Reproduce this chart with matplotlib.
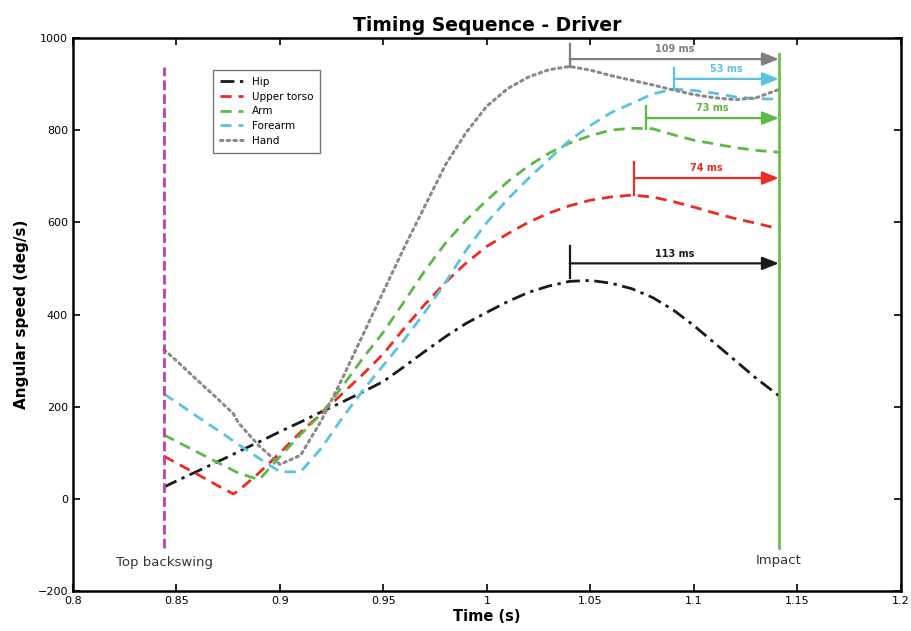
import matplotlib
matplotlib.use("Agg")
import matplotlib.pyplot as plt

# time axis (s) and angular speeds (deg/s)
t = [0.844, 0.85, 0.86, 0.87, 0.8775, 0.88, 0.89, 0.9, 0.91, 0.92, 0.93, 0.94, 0.95,
     0.96, 0.97, 0.98, 0.99, 1.0, 1.01, 1.02, 1.03, 1.04, 1.05, 1.06, 1.07, 1.08,
     1.09, 1.10, 1.11, 1.12, 1.13, 1.141]
hip = [26, 39, 60, 81, 97, 103, 124, 146, 167, 189, 210, 232, 255,
       287, 320, 352, 381, 405, 428, 448, 462, 472, 474, 468, 456, 437,
       410, 376, 338, 300, 262, 224]
upper_torso = [93, 78, 54, 29, 11, 18, 57, 100, 145, 185, 228, 270, 315,
               370, 422, 470, 512, 548, 575, 600, 620, 636, 648, 655, 659, 655,
               645, 633, 620, 608, 598, 586]
arm = [139, 125, 102, 79, 62, 56, 42, 92, 140, 185, 243, 305, 362,
       428, 495, 555, 605, 648, 688, 722, 750, 772, 788, 800, 804, 803,
       790, 778, 770, 762, 756, 752]
forearm = [228, 210, 179, 149, 126, 118, 88, 59, 59, 110, 175, 235, 290,
           345, 405, 470, 540, 600, 650, 695, 737, 778, 810, 838, 858, 878,
           889, 886, 880, 872, 868, 867]
hand = [324, 300, 258, 217, 185, 165, 115, 75, 95, 170, 260, 355, 450,
        545, 635, 725, 795, 852, 890, 915, 931, 938, 930, 918, 908, 898,
        887, 877, 870, 866, 870, 888]

t_top = 0.8442
t_impact = 1.141

# timing annotations: start of bar, arrow height, label
lag_start = [1.04, 1.0904, 1.0769, 1.0712, 1.04]
lag_y = [954, 911, 826, 696, 511]
lag_label = ["109 ms", "53 ms", "73 ms", "74 ms", "113 ms"]
lag_color = ["#7f7f7f", "#5bc3e0", "#5cb947", "#ee2a24", "#1a1a1a"]
lag_bar = [(937, 987), (889, 935), (802, 852), (659, 730), (480, 548)]

fig = plt.figure(figsize=(9.11, 6.31), dpi=100)
ax = fig.add_axes([0.080, 0.063, 0.909, 0.877])

ax.plot(t, hip, color="#1a1a1a", lw=2, dashes=(5, 2, 1.2, 2), label="Hip")
ax.plot(t, upper_torso, color="#ee2a24", lw=2, dashes=(4, 2.5), label="Upper torso")
ax.plot(t, arm, color="#5cb947", lw=2, dashes=(4, 2.5), label="Arm")
ax.plot(t, forearm, color="#5bc3e0", lw=2, dashes=(4, 2.5), label="Forearm")
ax.plot(t, hand, color="#8a8a8a", lw=2.2, dashes=(0.8, 1.4), dash_capstyle="round",
        label="Hand")

ax.plot([t_top, t_top], [-107, 937], color="#c23fa6", lw=2, dashes=(3.5, 1.5))
ax.plot([t_impact, t_impact], [-107, 965], color="#6cc04a", lw=2)
ax.text(t_top, -137, "Top backswing", ha="center", va="center", fontsize=9.5,
        color="#333333")
ax.text(t_impact, -133, "Impact", ha="center", va="center", fontsize=9.5,
        color="#333333")

for x0, y0, lab, col, bar in zip(lag_start, lag_y, lag_label, lag_color, lag_bar):
    ax.plot([x0, x0], bar, color=col, lw=1.6)
    ax.annotate("", xy=(t_impact, y0), xytext=(x0, y0),
                arrowprops=dict(arrowstyle="-|>,head_length=1.0,head_width=0.4",
                                color=col, lw=1.6, shrinkA=0, shrinkB=0))
    ax.text((x0 + t_impact) / 2, y0 + 10, lab, ha="center", va="bottom",
            fontsize=7, fontweight="bold", color=col)

ax.set_xlim(0.8, 1.2)
ax.set_ylim(-200, 1000)
ax.set_xticks([0.8, 0.85, 0.9, 0.95, 1.0, 1.05, 1.1, 1.15, 1.2])
ax.set_xticklabels(["0.8", "0.85", "0.9", "0.95", "1", "1.05", "1.1", "1.15", "1.2"])
ax.set_yticks([-200, 0, 200, 400, 600, 800, 1000])
ax.tick_params(direction="in", top=True, right=True, labelsize=8, length=5, width=1.2)
for s in ax.spines.values():
    s.set_linewidth(1.8)

ax.set_xlabel("Time (s)", fontsize=10.5, fontweight="bold", labelpad=2)
ax.set_ylabel("Angular speed (deg/s)", fontsize=11, fontweight="bold", labelpad=6)
ax.set_title("Timing Sequence - Driver", fontsize=13.5, fontweight="bold", pad=5)

leg = ax.legend(loc="upper left", bbox_to_anchor=(0.163, 0.952), fontsize=7.5,
                frameon=True, fancybox=False, edgecolor="#555555", handlelength=2.2,
                borderpad=0.7, labelspacing=0.45)
leg.get_frame().set_linewidth(1.0)

fig.savefig("out.png", dpi=100)
